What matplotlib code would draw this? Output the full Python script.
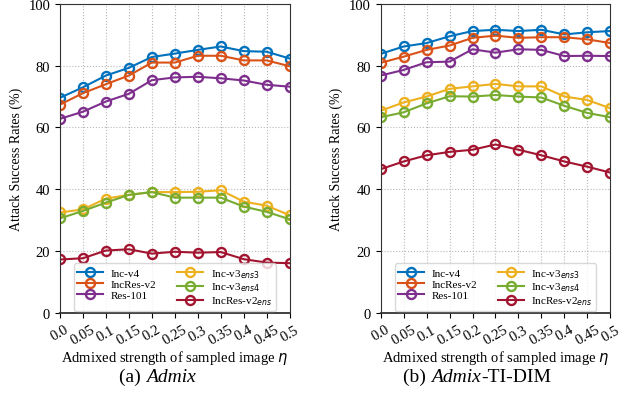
import matplotlib
matplotlib.use("Agg")
import matplotlib.pyplot as plt

plt.rcParams['font.family'] = ['Liberation Serif', 'DejaVu Serif']
plt.rcParams['mathtext.fontset'] = 'dejavusans'

eta = [0.0, 0.05, 0.1, 0.15, 0.2, 0.25, 0.3, 0.35, 0.4, 0.45, 0.5]
eta_labels = ['0.0', '0.05', '0.1', '0.15', '0.2', '0.25', '0.3', '0.35', '0.4', '0.45', '0.5']
models = ['Inc-v4', 'IncRes-v2', 'Res-101', 'Inc-v3$_{ens3}$', 'Inc-v3$_{ens4}$', 'IncRes-v2$_{ens}$']

# (a) Admix
admix_inc_v4 = [69.6, 73.0, 76.8, 79.3, 82.8, 83.9, 85.1, 86.2, 84.7, 84.5, 82.3]
admix_incres_v2 = [67.4, 71.1, 74.0, 76.8, 81.0, 81.0, 83.2, 83.2, 81.7, 81.7, 79.8]
admix_res101 = [62.8, 65.1, 68.4, 70.9, 75.3, 76.2, 76.4, 75.9, 75.2, 73.8, 73.2]
admix_ens3 = [32.5, 33.5, 37.0, 38.2, 39.1, 39.1, 39.2, 39.7, 36.0, 34.7, 31.6]
admix_ens4 = [30.6, 33.0, 35.7, 38.2, 39.1, 37.3, 37.3, 37.3, 34.4, 32.7, 30.3]
admix_incres_ens = [17.3, 17.7, 20.2, 20.6, 19.2, 19.8, 19.5, 19.7, 17.4, 16.3, 16.1]

# (b) Admix-TI-DIM
tidim_inc_v4 = [83.8, 86.2, 87.3, 89.5, 91.2, 91.6, 91.2, 91.6, 90.1, 90.8, 91.2]
tidim_incres_v2 = [80.9, 82.9, 85.1, 86.5, 89.0, 89.7, 89.0, 89.2, 89.2, 88.5, 87.3]
tidim_res101 = [76.8, 78.6, 81.1, 81.3, 85.3, 84.2, 85.3, 85.1, 83.1, 83.2, 83.1]
tidim_ens3 = [65.4, 68.1, 70.0, 72.5, 73.3, 74.1, 73.3, 73.3, 70.0, 68.9, 66.2]
tidim_ens4 = [63.3, 64.9, 67.8, 70.1, 70.0, 70.5, 70.0, 69.7, 67.0, 64.7, 63.3]
tidim_incres_ens = [46.5, 49.0, 51.0, 52.1, 52.8, 54.5, 52.8, 51.0, 49.0, 47.3, 45.4]

colors = ['#0072BD', '#D95319', '#7E2F8E', '#EDB120', '#77AC30', '#A2142F']

panels = [
    ([admix_inc_v4, admix_incres_v2, admix_res101, admix_ens3, admix_ens4, admix_incres_ens],
     ['(a) ', 'Admix', ''], 0.251),
    ([tidim_inc_v4, tidim_incres_v2, tidim_res101, tidim_ens3, tidim_ens4, tidim_incres_ens],
     ['(b) ', 'Admix', '-TI-DIM'], 0.762),
]

fig = plt.figure(figsize=(6.26, 4.02), dpi=100)
renderer = fig.canvas.get_renderer()
lefts = [0.0958, 0.608]
for (series, caption, cx), left in zip(panels, lefts):
    ax = fig.add_axes([left, 0.219, 0.367, 0.769])
    for i in range(6):
        ax.plot(eta, series[i], color=colors[i], lw=1.5, marker='o', ms=6.5,
                mfc='none', mew=1.7, label=models[i])
    ax.set_xlim(0, 0.5)
    ax.set_ylim(0, 100)
    ax.set_xticks(eta)
    ax.set_xticklabels(eta_labels, rotation=30, fontsize=10.5)
    ax.set_yticks([0, 20, 40, 60, 80, 100])
    ax.tick_params(axis='y', labelsize=10.5)
    ax.grid(True, linestyle=':', color='#b8b8b8', lw=0.8)
    ax.set_axisbelow(True)
    ax.set_ylabel('Attack Success Rates (%)', fontsize=10)
    ax.set_xlabel('Admixed strength of sampled image $\\eta$', fontsize=10.5, labelpad=1)
    for sp in ax.spines.values():
        sp.set_color('#333333')
    ax.spines['bottom'].set_linewidth(1.3)
    ax.legend(loc='lower center', ncol=2, fontsize=8, frameon=True,
              edgecolor='#d0d0d0', fancybox=True, borderpad=0.3,
              labelspacing=0.1, columnspacing=1.9, handlelength=2.3,
              handletextpad=0.7, borderaxespad=0.2)
    # caption with italic part
    styles = ['normal', 'italic', 'normal']
    texts = []
    widths = []
    for s, st in zip(caption, styles):
        t = fig.text(0, 0.062, s, fontsize=14, fontstyle=st, ha='left', va='center')
        texts.append(t)
        widths.append(t.get_window_extent(renderer).width if s else 0.0)
    total = sum(widths)
    x0 = cx * 626 - total / 2
    for t, w in zip(texts, widths):
        t.set_x(x0 / 626)
        x0 += w

fig.savefig('out.png', dpi=100)
